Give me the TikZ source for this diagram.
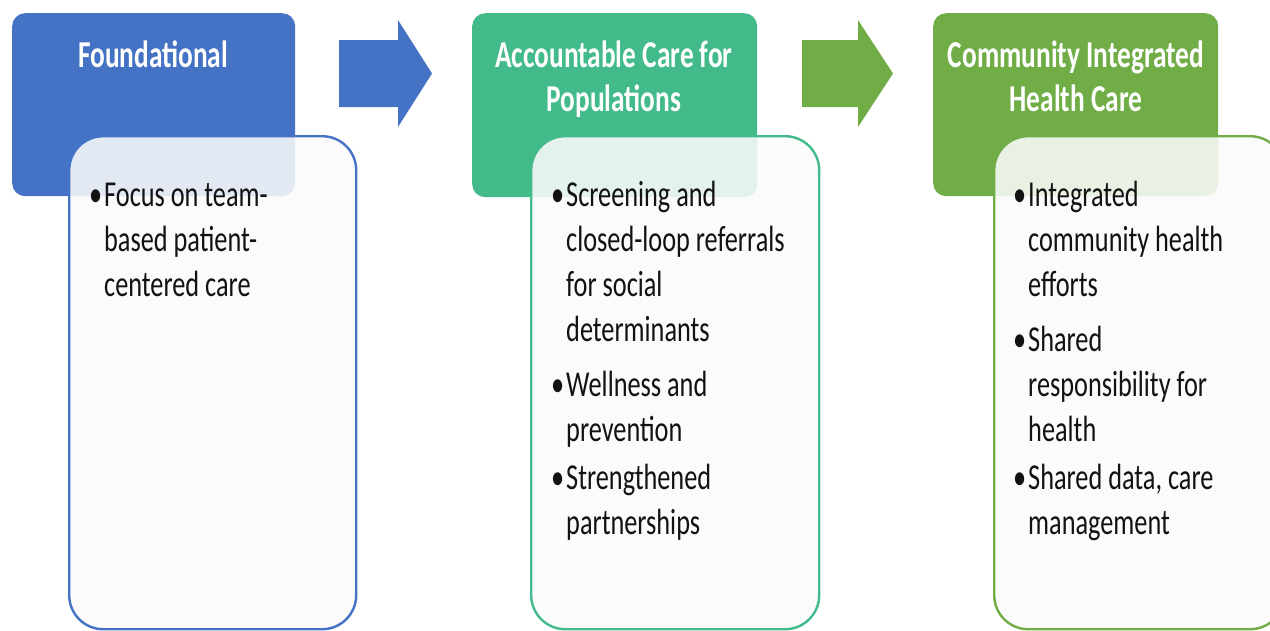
\documentclass[tikz,border=0pt]{standalone}
\usepackage{fontspec}
\setmainfont{Carlito}[FakeStretch=0.72]
\definecolor{cblue}{HTML}{4472C4}
\definecolor{cteal}{HTML}{42BA8A}
\definecolor{cgreen}{HTML}{70AD47}
\definecolor{ctext}{HTML}{121212}
\begin{document}
\begin{tikzpicture}[x=1pt,y=-1pt,
  hdr/.style={rectangle, rounded corners=13pt, inner sep=0pt, anchor=north west, draw=none},
  cnt/.style={rectangle, rounded corners=34pt, inner sep=0pt, anchor=north west, line width=2.4pt,
              fill=white!98!black, fill opacity=0.88},
  ttl/.style={anchor=base, align=center, text=white, inner sep=0pt,
              font=\fontsize{38}{43.5}\selectfont\bfseries},
  itm/.style={anchor=base west, align=left, text=ctext, inner sep=0pt,
              font=\fontsize{36.5}{44.7}\selectfont},
]
\useasboundingbox (0,0) rectangle (1270,630);
\clip (0,0) rectangle (1270,630);
% headers
\node[hdr, fill=cblue,  minimum width=283pt, minimum height=183pt] (h1) at (12,13) {};
\node[hdr, fill=cteal,  minimum width=285pt, minimum height=184pt] (h2) at (472,13) {};
\node[hdr, fill=cgreen, minimum width=285pt, minimum height=183pt] (h3) at (933,13) {};
% content boxes
\node[cnt, draw=cblue,  minimum width=287pt, minimum height=493pt] (c1) at (68,135) {};
\node[cnt, draw=cteal,  minimum width=288pt, minimum height=493pt] (c2) at (530,135) {};
\node[cnt, draw=cgreen, minimum width=290pt, minimum height=493pt] (c3) at (993,135) {};
% arrows
\fill[cblue] (339,40) -- (398,40) -- (398,20) -- (432,73.5) -- (398,127) -- (398,107) -- (339,107) -- cycle;
\fill[cgreen] (802,40) -- (858,40) -- (858,20) -- (893,73.5) -- (858,127) -- (858,107) -- (802,107) -- cycle;
% titles (anchor = baseline of last line)
\node[ttl] (t1) at (153,67) {Foundational};
\node[ttl] (t2) at (614,111) {Accountable Care for\\Populations};
\node[ttl] (t3) at (1076,111) {Community Integrated\\Health Care};
% items (anchor = baseline of last line)
\node[itm] (i11) at (104,296) {\llap{•\hspace{2pt}}Focus on team-\\based patient-\\centered care};
\node[itm] (i21) at (566,341) {\llap{•\hspace{2pt}}Screening and\\closed-loop referrals\\for social\\determinants};
\node[itm] (i22) at (566,441) {\llap{•\hspace{2pt}}Wellness and\\prevention};
\node[itm] (i23) at (566,534) {\llap{•\hspace{2pt}}Strengthened\\partnerships};
\node[itm] (i31) at (1028,296) {\llap{•\hspace{2pt}}Integrated\\community health\\efforts};
\node[itm] (i32) at (1028,441) {\llap{•\hspace{2pt}}Shared\\responsibility for\\health};
\node[itm] (i33) at (1028,534) {\llap{•\hspace{2pt}}Shared data, care\\management};
\end{tikzpicture}
\end{document}
